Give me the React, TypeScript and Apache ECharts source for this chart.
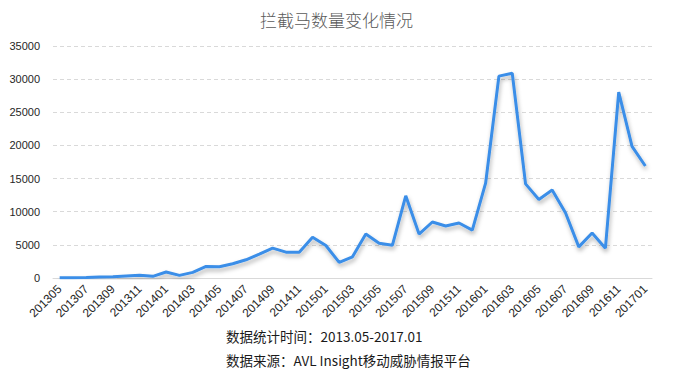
import React, { useEffect, useRef } from "react";
import * as echarts from "echarts";

const months: string[] = [
  "201305","201306","201307","201308","201309","201310","201311","201312",
  "201401","201402","201403","201404","201405","201406","201407","201408","201409","201410","201411","201412",
  "201501","201502","201503","201504","201505","201506","201507","201508","201509","201510","201511","201512",
  "201601","201602","201603","201604","201605","201606","201607","201608","201609","201610","201611","201612",
  "201701",
];

const counts: number[] = [
  30, 50, 80, 150, 200, 300, 400, 250,
  900, 400, 850, 1750, 1700, 2150, 2750, 3600, 4500, 3900, 3900, 6150,
  4900, 2350, 3200, 6630, 5250, 4950, 12400, 6630, 8450, 7850, 8300, 7230,
  14300, 30450, 30900, 14200, 11850, 13280, 9850, 4700, 6800, 4500, 28030, 19850,
  16900,
];

const titleText = "拦截马数量变化情况";
const footerLines = ["数据统计时间：2013.05-2017.01", "数据来源：AVL Insight移动威胁情报平台"];

export default function App() {
  const ref = useRef<HTMLDivElement>(null);
  useEffect(() => {
    if (!ref.current) return;
    const chart = echarts.init(ref.current, null, { renderer: "svg" });
    chart.setOption({
      animation: false,
      backgroundColor: "#ffffff",
      title: {
        text: titleText,
        left: "center",
        top: 6,
        textStyle: {
          fontFamily: "Noto Sans CJK SC",
          fontSize: 17,
          fontWeight: 300,
          color: "#595959",
        },
      },
      grid: { left: 53, right: 21, top: 46, bottom: 93, containLabel: false },
      xAxis: {
        type: "category",
        data: months,
        boundaryGap: true,
        axisLine: { lineStyle: { color: "#d9d9d9", width: 1 } },
        axisTick: { show: false },
        axisLabel: {
          interval: 1,
          rotate: 45,
          fontSize: 12,
          color: "#262626",
          fontFamily: "Liberation Sans",
          margin: 9,
        },
      },
      yAxis: {
        type: "value",
        min: 0,
        max: 35000,
        interval: 5000,
        axisLine: { show: false },
        axisTick: { show: false },
        axisLabel: {
          fontSize: 11,
          color: "#262626",
          fontFamily: "Liberation Sans",
          margin: 13,
          formatter: (v: number) => String(v),
        },
        splitLine: { lineStyle: { color: "#d9d9d9", type: [4, 3], width: 1 } },
      },
      series: [
        {
          type: "line",
          data: counts,
          symbol: "none",
          lineStyle: {
            color: "#3a8ee8",
            width: 3,
            shadowColor: "rgba(0,0,0,0.3)",
            shadowBlur: 4,
            shadowOffsetX: 1,
            shadowOffsetY: 3,
          },
          itemStyle: { color: "#3a8ee8" },
        },
      ],
      graphic: footerLines.map((t, i) => ({
        type: "text",
        left: 226,
        top: 329 + i * 24,
        style: {
          text: t,
          fontSize: 13.5,
          fill: "#1a1a1a",
          fontFamily: "Noto Sans CJK SC",
        },
      })),
    });
    return () => chart.dispose();
  }, []);
  return <div ref={ref} style={{ width: 673, height: 371, position: "absolute", left: 0, top: 0 }} />;
}
